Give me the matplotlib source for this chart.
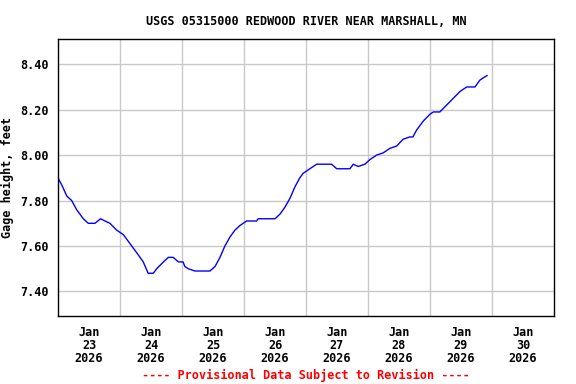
import matplotlib
matplotlib.use("Agg")
import matplotlib.pyplot as plt
from matplotlib.ticker import FixedLocator, NullFormatter, FixedFormatter

# hours since Jan 23 2026 00:00, gage height in feet
hours = [0, 1.4, 3.4, 5.3, 7.2, 9.8, 11.7, 14.3, 16.5, 18.2, 20.1, 22.7,
         25.3, 27.9, 30.5, 33.0, 34.9, 36.9, 38.2, 40.8, 42.7, 44.6, 46.6,
         48.4, 49.1, 50.4, 53.0, 58.8, 60.8, 62.7, 64.6, 66.6, 68.5, 70.4,
         73.0, 76.9, 77.5, 84.0, 85.9, 87.8, 89.8, 91.7, 93.6, 94.9, 97.5,
         100.1, 105.9, 107.9, 113.0, 114.3, 116.2, 118.8, 120.7, 123.3,
         125.9, 128.5, 131.1, 133.6, 136.2, 137.4, 138.8, 141.4, 144.0,
         145.3, 147.8, 150.4, 153.0, 155.6, 158.2, 158.8, 161.4, 163.3,
         164.6, 166.1]
gage = [7.90, 7.87, 7.82, 7.80, 7.76, 7.72, 7.70, 7.70, 7.72, 7.71, 7.70,
        7.67, 7.65, 7.61, 7.57, 7.53, 7.48, 7.48, 7.50, 7.53, 7.55, 7.55,
        7.53, 7.53, 7.51, 7.50, 7.49, 7.49, 7.51, 7.55, 7.60, 7.64, 7.67,
        7.69, 7.71, 7.71, 7.72, 7.72, 7.74, 7.77, 7.81, 7.86, 7.90, 7.92,
        7.94, 7.96, 7.96, 7.94, 7.94, 7.96, 7.95, 7.96, 7.98, 8.00, 8.01,
        8.03, 8.04, 8.07, 8.08, 8.08, 8.11, 8.15, 8.18, 8.19, 8.19, 8.22,
        8.25, 8.28, 8.30, 8.30, 8.30, 8.33, 8.34, 8.35]

day_labels = ["Jan\n23\n2026", "Jan\n24\n2026", "Jan\n25\n2026",
              "Jan\n26\n2026", "Jan\n27\n2026", "Jan\n28\n2026",
              "Jan\n29\n2026", "Jan\n30\n2026"]
y_ticks = [7.40, 7.60, 7.80, 8.00, 8.20, 8.40]

plt.rcParams["font.family"] = "DejaVu Sans Mono"
plt.rcParams["font.weight"] = "bold"

fig = plt.figure(figsize=(5.76, 3.84), dpi=100)
ax = fig.add_axes([0.1007, 0.1771, 0.8611, 0.7213])

ax.plot(hours, gage, color="#0000ff", linewidth=1.0)

ax.set_xlim(0, 24 * len(day_labels))
ax.set_ylim(7.292, 8.511)

# gridlines at midnight, labels at noon
ax.xaxis.set_major_locator(FixedLocator([24 * i for i in range(1, len(day_labels))]))
ax.xaxis.set_major_formatter(NullFormatter())
ax.xaxis.set_minor_locator(FixedLocator([12 + 24 * i for i in range(len(day_labels))]))
ax.xaxis.set_minor_formatter(FixedFormatter(day_labels))
ax.set_yticks(y_ticks)
ax.set_yticklabels([f"{v:.2f}" for v in y_ticks])

ax.tick_params(axis="both", which="both", length=0, labelsize=8.5)
ax.tick_params(axis="x", which="minor", pad=7)
ax.tick_params(axis="y", pad=7)
for lbl in ax.xaxis.get_minorticklabels() + ax.get_yticklabels():
    lbl.set_fontweight("bold")
for lbl in ax.xaxis.get_minorticklabels():
    lbl.set_linespacing(1.0)

ax.grid(True, which="major", color="#c8c8c8", linewidth=1.0)
ax.set_axisbelow(True)
for sp in ax.spines.values():
    sp.set_linewidth(1.0)
    sp.set_color("black")

ax.set_ylabel("Gage height, feet", fontsize=8.5, fontweight="bold", labelpad=4)
ax.set_title("USGS 05315000 REDWOOD RIVER NEAR MARSHALL, MN",
             fontsize=8.5, fontweight="bold", pad=10)
fig.text(0.531, 0.0234, "---- Provisional Data Subject to Revision ----",
         color="red", fontsize=8.5, fontweight="bold", ha="center", va="center")

fig.savefig("out.png", dpi=100)
